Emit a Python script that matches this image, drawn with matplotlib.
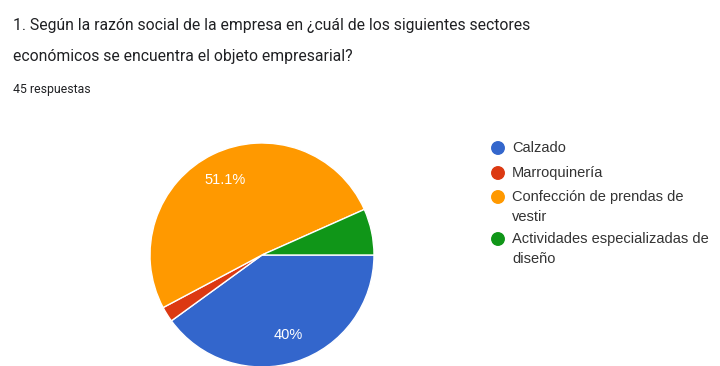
import matplotlib
matplotlib.use('Agg')
from matplotlib import pyplot as plt

plt.rcParams['font.family'] = ['Liberation Sans', 'DejaVu Sans']

# Respuestas por sector
sectores = ['Calzado', 'Marroquinería', 'Confección de prendas de\nvestir',
            'Actividades especializadas de\ndiseño']
respuestas = [18, 1, 23, 3]
colores = ['#3366cc', '#dc3912', '#ff9900', '#109618']

titulo = ['1. Según la razón social de la empresa en ¿cuál de los siguientes sectores',
          'económicos se encuentra el objeto empresarial?']
subtitulo = '45 respuestas'

fuente_titulo = ['Roboto', 'DejaVu Sans']

W, H = 720, 366
fig = plt.figure(figsize=(W / 100, H / 100), dpi=100)
fig.patch.set_facecolor('white')

def fx(px):
	return px / W

def fy(py):
	return 1 - py / H

# title, two lines
fig.text(fx(13), fy(30), titulo[0], fontsize=11.3, color='#202124',
	va='baseline', family=fuente_titulo)
fig.text(fx(13), fy(60.5), titulo[1], fontsize=11.3, color='#202124',
	va='baseline', family=fuente_titulo)
fig.text(fx(13), fy(92.5), subtitulo, fontsize=8.8, color='#202124', va='baseline',
	family=fuente_titulo)

# pie: center (262,255), radius 112 px
r = 112
cx, cy = 262, 255
ax = fig.add_axes([fx(cx - r), fy(cy + r), 2 * r / W, 2 * r / H])

def etiqueta(pct):
	if pct < 10:
		return ''
	s = '%.1f' % pct
	if s.endswith('.0'):
		s = s[:-2]
	return s + '%'

wedges, texts, autotexts = ax.pie(respuestas, colors=colores, startangle=0,
	counterclock=False, autopct=etiqueta, pctdistance=0.75,
	wedgeprops=dict(edgecolor='white', linewidth=1.0),
	textprops=dict(color='white', fontsize=10.5))
ax.set_xlim(-1, 1)
ax.set_ylim(-1, 1)
ax.set_aspect('equal')
ax.axis('off')

# legend
ley_y = [148, 173, 197, 239]
for i, nombre in enumerate(sectores):
	fig.patches.append(matplotlib.patches.Ellipse((fx(498), fy(ley_y[i])), 12.5 / W, 12.5 / H,
		transform=fig.transFigure, color=colores[i], figure=fig))
	fig.text(fx(512), fy(ley_y[i] - 7.5), nombre, fontsize=10.5, color='#333333',
		va='top', linespacing=1.62)

fig.savefig('out.png', dpi=100, facecolor='white')
